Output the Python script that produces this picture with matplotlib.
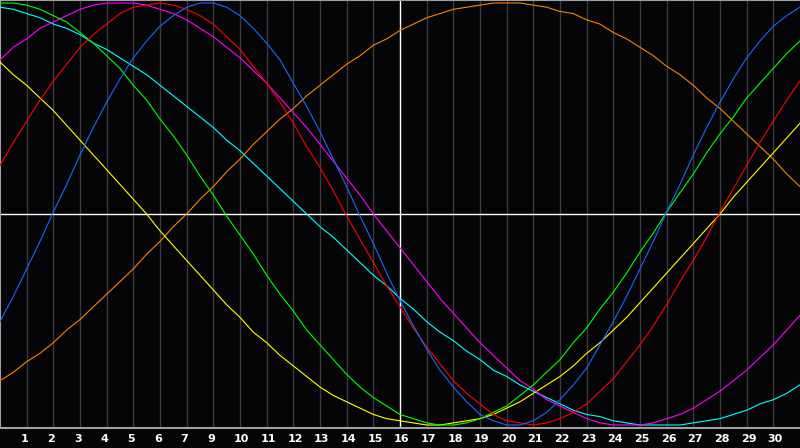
import numpy as np
import matplotlib
matplotlib.use('Agg')
from matplotlib import pyplot as plt
from matplotlib import transforms

# half-day steps across the 30-day window
days = [i / 2 for i in range(61)]
tick_pos = list(range(1, 30))
tick_labels = ['1', '2', '3', '4', '5', '6', '7', '9', '10', '11', '12', '13', '14', '15',
               '16', '17', '18', '19', '20', '21', '22', '23', '24', '25', '26', '27', '28',
               '29', '30']

# curve values read every half day
blue = [-0.51, -0.39, -0.26, -0.13, 0.01, 0.14, 0.28, 0.41,
        0.53, 0.64, 0.74, 0.82, 0.89, 0.94, 0.98, 1.00,
        1.00, 0.98, 0.94, 0.88, 0.81, 0.73, 0.62, 0.51,
        0.39, 0.26, 0.13, -0.01, -0.14, -0.28, -0.41, -0.53,
        -0.64, -0.74, -0.82, -0.89, -0.95, -0.98, -1.00, -1.00,
        -0.98, -0.94, -0.88, -0.81, -0.73, -0.62, -0.51, -0.39,
        -0.26, -0.13, 0.01, 0.14, 0.28, 0.41, 0.53, 0.64,
        0.74, 0.82, 0.89, 0.94, 0.98]
green = [1.00, 1.00, 0.99, 0.97, 0.94, 0.91, 0.86, 0.81,
         0.75, 0.69, 0.61, 0.54, 0.45, 0.37, 0.28, 0.18,
         0.09, -0.01, -0.10, -0.19, -0.29, -0.38, -0.46, -0.55,
         -0.62, -0.69, -0.76, -0.82, -0.87, -0.91, -0.95, -0.97,
         -0.99, -1.00, -1.00, -0.99, -0.97, -0.94, -0.91, -0.86,
         -0.81, -0.75, -0.69, -0.61, -0.54, -0.45, -0.37, -0.28,
         -0.18, -0.09, 0.01, 0.10, 0.19, 0.29, 0.38, 0.46,
         0.55, 0.62, 0.69, 0.76, 0.82]
red = [0.23, 0.34, 0.44, 0.54, 0.63, 0.71, 0.79, 0.85,
       0.90, 0.95, 0.98, 0.99, 1.00, 0.99, 0.97, 0.94,
       0.90, 0.84, 0.78, 0.70, 0.62, 0.53, 0.43, 0.32,
       0.22, 0.11, -0.01, -0.12, -0.23, -0.34, -0.44, -0.54,
       -0.63, -0.71, -0.79, -0.85, -0.90, -0.95, -0.98, -0.99,
       -1.00, -0.99, -0.97, -0.94, -0.90, -0.84, -0.78, -0.70,
       -0.62, -0.53, -0.43, -0.32, -0.22, -0.11, 0.01, 0.12,
       0.23, 0.34, 0.44, 0.54, 0.63]
yellow = [0.72, 0.66, 0.61, 0.55, 0.49, 0.42, 0.35, 0.28,
          0.21, 0.14, 0.07, 0.00, -0.08, -0.15, -0.22, -0.29,
          -0.36, -0.43, -0.49, -0.56, -0.61, -0.67, -0.72, -0.77,
          -0.82, -0.86, -0.89, -0.92, -0.95, -0.97, -0.98, -0.99,
          -1.00, -1.00, -0.99, -0.98, -0.97, -0.95, -0.92, -0.89,
          -0.85, -0.81, -0.77, -0.72, -0.66, -0.61, -0.55, -0.49,
          -0.42, -0.35, -0.28, -0.21, -0.14, -0.07, 0.00, 0.08,
          0.15, 0.22, 0.29, 0.36, 0.43]
magenta = [0.73, 0.79, 0.83, 0.88, 0.91, 0.94, 0.97, 0.99,
           1.00, 1.00, 1.00, 0.99, 0.97, 0.95, 0.92, 0.88,
           0.84, 0.79, 0.74, 0.68, 0.62, 0.55, 0.48, 0.41,
           0.33, 0.25, 0.17, 0.09, 0.00, -0.08, -0.16, -0.24,
           -0.32, -0.40, -0.47, -0.54, -0.61, -0.67, -0.73, -0.79,
           -0.83, -0.88, -0.91, -0.94, -0.97, -0.99, -1.00, -1.00,
           -1.00, -0.99, -0.97, -0.95, -0.92, -0.88, -0.84, -0.79,
           -0.74, -0.68, -0.62, -0.55, -0.48]
cyan = [0.98, 0.97, 0.95, 0.93, 0.90, 0.88, 0.85, 0.81,
        0.78, 0.74, 0.70, 0.66, 0.61, 0.56, 0.51, 0.46,
        0.41, 0.35, 0.30, 0.24, 0.18, 0.12, 0.06, 0.00,
        -0.06, -0.11, -0.17, -0.23, -0.29, -0.34, -0.40, -0.45,
        -0.51, -0.56, -0.60, -0.65, -0.69, -0.74, -0.77, -0.81,
        -0.84, -0.87, -0.90, -0.93, -0.95, -0.96, -0.98, -0.99,
        -1.00, -1.00, -1.00, -1.00, -0.99, -0.98, -0.97, -0.95,
        -0.93, -0.90, -0.88, -0.85, -0.81]
orange = [-0.79, -0.75, -0.70, -0.66, -0.61, -0.55, -0.50, -0.44,
          -0.38, -0.32, -0.26, -0.19, -0.13, -0.06, 0.00, 0.07,
          0.13, 0.20, 0.26, 0.33, 0.39, 0.45, 0.50, 0.56,
          0.61, 0.66, 0.71, 0.75, 0.80, 0.83, 0.87, 0.90,
          0.93, 0.95, 0.97, 0.98, 0.99, 1.00, 1.00, 1.00,
          0.99, 0.98, 0.96, 0.95, 0.92, 0.90, 0.86, 0.83,
          0.79, 0.75, 0.70, 0.66, 0.61, 0.55, 0.50, 0.44,
          0.38, 0.32, 0.26, 0.19, 0.13]

bg = '#050508'
fig = plt.figure(figsize=(8, 4.48), dpi=100, facecolor=bg)
ax = fig.add_axes([0, 20 / 448, 1, 428 / 448])
ax.set_facecolor(bg)
ax.set_xlim(0, 30)
ax.set_ylim(-1.0142, 1.0142)

for p in tick_pos:
    if p != 15:
        ax.axvline(p, color='#3a3a3a', lw=1, zorder=1)
ax.axvline(15, color='white', lw=1, zorder=2)
ax.axhline(0, color='white', lw=1, zorder=2)

for vals, col in [(orange, '#ff8000'), (cyan, '#00ffff'), (yellow, '#ffff00'),
                  (magenta, '#ff00ff'), (green, '#00ff00'), (red, '#ff0000'),
                  (blue, '#1a66ff')]:
    ax.plot(days, vals, color=col, lw=0.8, zorder=3)

ax.set_xticks([])
ax.set_yticks([])
for s in ['top', 'bottom', 'left']:
    ax.spines[s].set_color('#a0a0a0')
    ax.spines[s].set_linewidth(1.5)
ax.spines['right'].set_visible(False)

trans = transforms.blended_transform_factory(ax.transData, fig.transFigure)
off = transforms.ScaledTranslation(-6 / 100, 0, fig.dpi_scale_trans)
for p, lab in zip(tick_pos, tick_labels):
    fig.text(p, 9 / 448, lab, transform=trans + off, color='white', fontsize=8,
             fontweight='bold', ha='left', va='center', family='DejaVu Sans')

fig.savefig('out.png', dpi=100, facecolor=bg)
